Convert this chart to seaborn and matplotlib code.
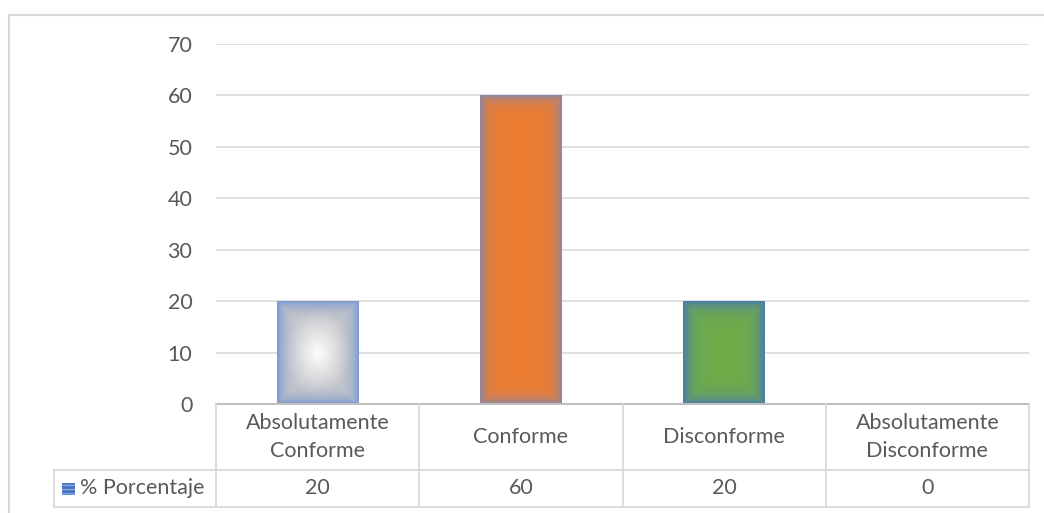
import numpy as np
import matplotlib
matplotlib.use("Agg")
import matplotlib.pyplot as plt
import seaborn as sns
from matplotlib.colors import to_rgb
from matplotlib.patches import Rectangle
from matplotlib.lines import Line2D

categories = ["Absolutamente\nConforme", "Conforme", "Disconforme", "Absolutamente\nDisconforme"]
values = [20, 60, 20, 0]
series_name = "% Porcentaje"
y_ticks = [0, 10, 20, 30, 40, 50, 60, 70]

# fill styles per bar: (kind, centre, mid, edge, band px)
styles = [("radial", "#ffffff", "#c9c9c9", "#7f9bd2", 8),
          ("rect", "#ed7d31", "#ed7d31", "#8f86a0", 6),
          ("rect", "#70ad47", "#70ad47", "#4a7fa8", 8)]

txt = "#595959"
grid = "#d9d9d9"
fs = 15.5

sns.set_theme(style="white")
plt.rcParams["font.family"] = ["Lato", "DejaVu Sans"]

fig = plt.figure(figsize=(10.44, 5.13), dpi=100)
ax = fig.add_axes([216/1044, 1-404/513, 813/1044, 360/513])

sns.barplot(x=categories, y=values, width=0.4, color="#ffffff", ax=ax, linewidth=0)
ax.set_xlim(-0.5, len(categories) - 0.5)
ax.set_ylim(0, 70)
ax.set_yticks(y_ticks)
ax.set_yticklabels([str(t) for t in y_ticks], color=txt, fontsize=fs)
ax.tick_params(axis="y", length=0, pad=17)
ax.set_xticks([])
ax.set_xlabel("")
ax.set_ylabel("")
for s in ax.spines.values():
    s.set_visible(False)
for t in y_ticks[1:]:
    ax.axhline(t, color=grid, lw=1.2, zorder=0)

# gradient fills clipped to each bar
for patch, st in zip(ax.patches, styles):
    x0, w, h = patch.get_x(), patch.get_width(), patch.get_height()
    if h <= 0:
        continue
    p0 = ax.transData.transform((x0, 0))
    p1 = ax.transData.transform((x0 + w, h))
    wp, hp = int(abs(p1[0]-p0[0])), int(abs(p1[1]-p0[1]))
    xs = np.linspace(-wp/2, wp/2, wp)
    ys = np.linspace(-hp/2, hp/2, hp)
    X, Y = np.meshgrid(xs, ys)
    kind, c0, c1, ce, band = st
    c0, c1, ce = map(lambda c: np.array(to_rgb(c)), (c0, c1, ce))
    if kind == "radial":
        r = np.sqrt((X/(wp/2))**2 + (Y/(hp/2))**2) / np.sqrt(2)
        t = np.clip(r / 0.6, 0, 1)[..., None] ** 0.9
        base = c0*(1-t) + c1*t
    else:
        base = np.ones(X.shape + (3,)) * c0
    e = np.minimum(wp/2 - np.abs(X), hp/2 - np.abs(Y))
    k = np.exp(-e / band)[..., None]
    img = base*(1-k) + ce*k
    im = ax.imshow(img, extent=(x0, x0 + w, 0, h), origin="lower", aspect="auto", zorder=2, interpolation="bilinear")
    im.set_clip_path(patch)
ax.set_xlim(-0.5, len(categories) - 0.5)
ax.set_ylim(0, 70)

# data table below the axis
r1, r2 = -66/360, -103/360
lx = -162/813
tkw = dict(transform=ax.transAxes, clip_on=False, color=grid, lw=1.3)
ax.add_line(Line2D([0, 1], [0, 0], color="#bfbfbf", lw=1.5, transform=ax.transAxes, clip_on=False))
ax.add_line(Line2D([lx, 1], [r1, r1], **tkw))
ax.add_line(Line2D([lx, 1], [r2, r2], **tkw))
ax.add_line(Line2D([lx, lx], [r1, r2], **tkw))
for i in range(len(categories) + 1):
    ax.add_line(Line2D([i/len(categories)]*2, [0, r2], **tkw))

tr = ax.get_xaxis_transform()
for i, (c, v) in enumerate(zip(categories, values)):
    ax.text(i, r1/2, c, transform=tr, ha="center", va="center", color=txt, fontsize=fs, linespacing=1.5)
    ax.text(i, (r1+r2)/2, str(v), transform=tr, ha="center", va="center", color=txt, fontsize=fs)

ax.add_patch(Rectangle((-154/813, (r1+r2)/2 - 6/360), 13/813, 12/360, transform=ax.transAxes,
                       clip_on=False, facecolor="#4472c4", edgecolor="#8faadc", hatch="----", lw=0))
ax.text(-136/813, (r1+r2)/2, series_name, transform=ax.transAxes, ha="left", va="center", color=txt, fontsize=fs)

# outer chart frame
fig.add_artist(Line2D([9/1044, 9/1044], [0, 1-15/513], color=grid, lw=1.5))
fig.add_artist(Line2D([9/1044, 1], [1-15/513, 1-15/513], color=grid, lw=1.5))

fig.savefig("out.png", dpi=100)
